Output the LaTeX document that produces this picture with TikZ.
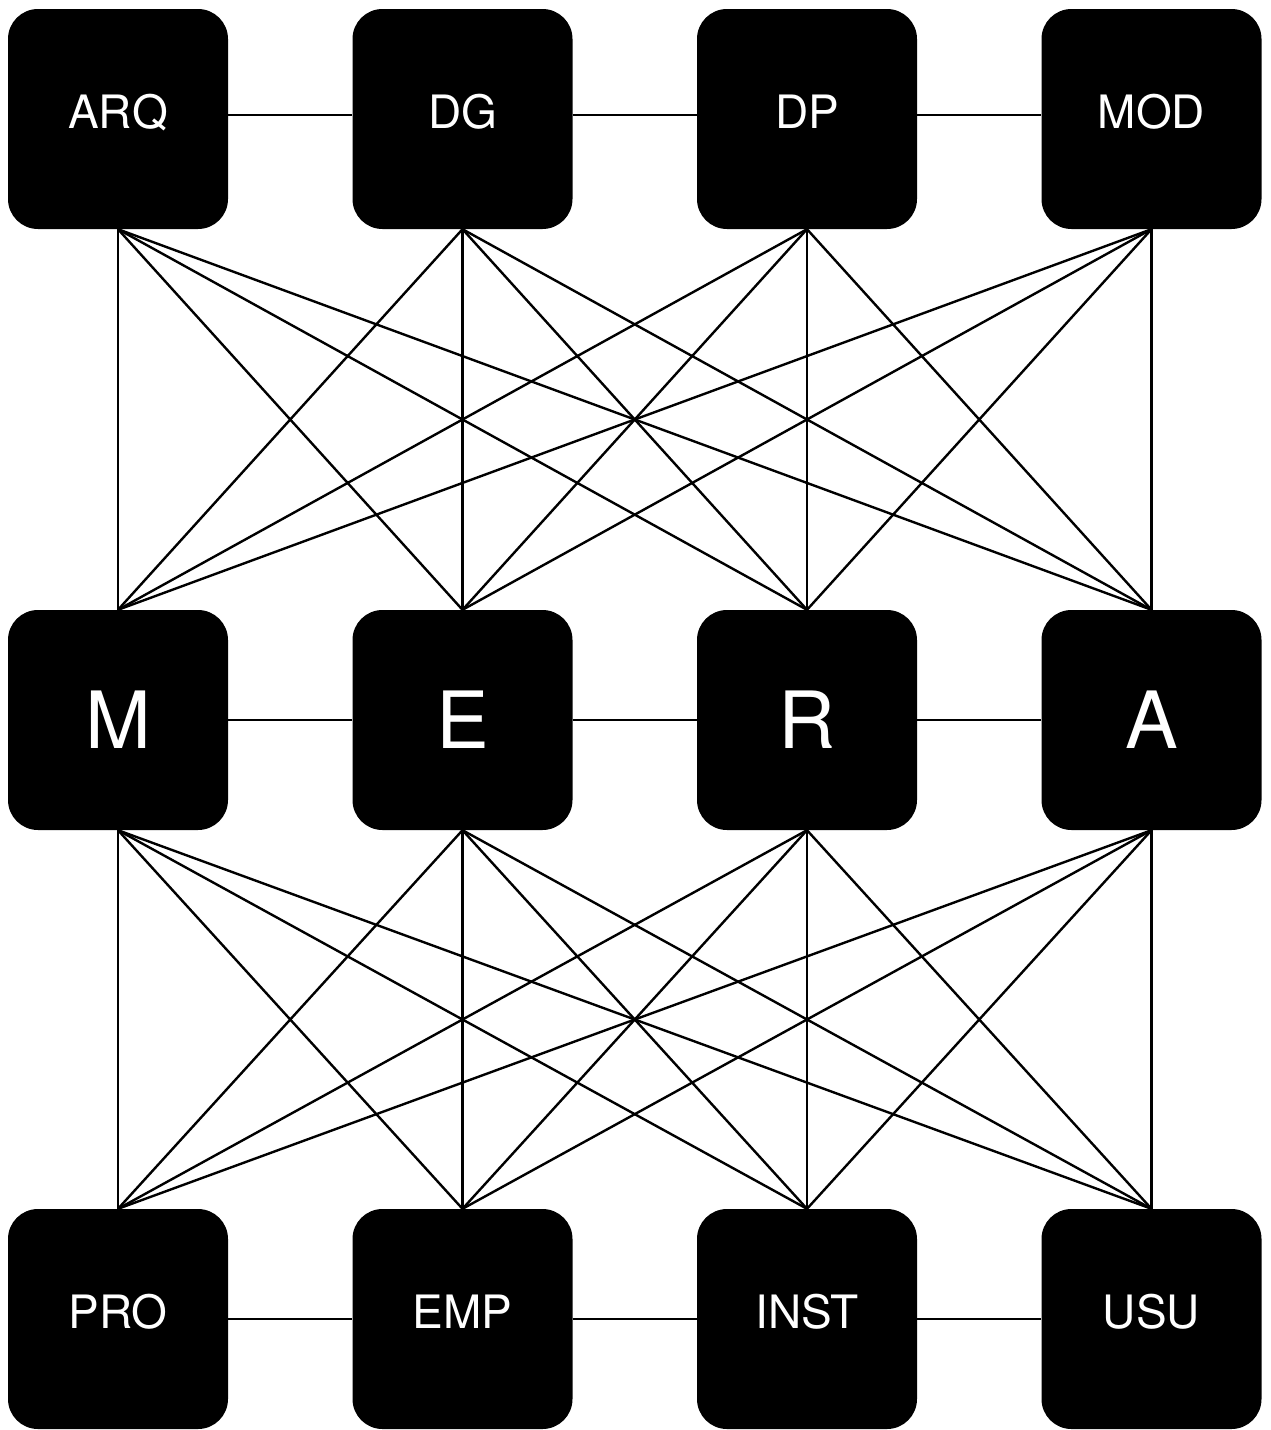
\documentclass[tikz,border=0pt]{standalone}
\usepackage{fontspec}
\setmainfont{TeX Gyre Heros}
\begin{document}
\begin{tikzpicture}[x=1pt,y=-1pt,
  cell/.style={draw=none, fill=black, rounded corners=30pt, minimum width=220pt, minimum height=220pt, inner sep=0pt, text=white},
  small/.style={font=\fontsize{46}{50}\selectfont},
  big/.style={font=\fontsize{79}{84}\selectfont},
  link/.style={line width=2.4pt, black}]
\useasboundingbox (0,0) rectangle (1271,1430);
% top row
\node[cell,small] (arq) at (118,119) {\raisebox{-9.5pt}[0pt][0pt]{ARQ}};
\node[cell,small] (dg)  at (462.5,119) {\raisebox{-9.5pt}[0pt][0pt]{DG}};
\node[cell,small] (dp)  at (807,119) {\raisebox{-9.5pt}[0pt][0pt]{DP}};
\node[cell,small] (mod) at (1151.5,119) {\raisebox{-9.5pt}[0pt][0pt]{MOD}};
% middle row
\node[cell,big] (m) at (118,720) {\raisebox{-28.5pt}[0pt][0pt]{M}};
\node[cell,big] (e) at (462.5,720) {\raisebox{-28.5pt}[0pt][0pt]{E}};
\node[cell,big] (r) at (807,720) {\raisebox{-28.5pt}[0pt][0pt]{R}};
\node[cell,big] (a) at (1151.5,720) {\raisebox{-28.5pt}[0pt][0pt]{A}};
% bottom row
\node[cell,small] (pro)  at (118,1319) {\raisebox{-9.5pt}[0pt][0pt]{PRO}};
\node[cell,small] (emp)  at (462.5,1319) {\raisebox{-9.5pt}[0pt][0pt]{EMP}};
\node[cell,small] (inst) at (807,1319) {\raisebox{-9.5pt}[0pt][0pt]{INST}};
\node[cell,small] (usu)  at (1151.5,1319) {\raisebox{-9.5pt}[0pt][0pt]{USU}};
% horizontal links
\draw[link] ([yshift=4pt]arq.east) -- ([yshift=4pt]dg.west);
\draw[link] ([yshift=4pt]dg.east) -- ([yshift=4pt]dp.west);
\draw[link] ([yshift=4pt]dp.east) -- ([yshift=4pt]mod.west);
\draw[link] (m.east) -- (e.west);
\draw[link] (e.east) -- (r.west);
\draw[link] (r.east) -- (a.west);
\draw[link] (pro.east) -- (emp.west);
\draw[link] (emp.east) -- (inst.west);
\draw[link] (inst.east) -- (usu.west);
% cross links top to middle
\foreach \t in {arq,dg,dp,mod}{
  \foreach \b in {m,e,r,a}{
    \draw[link] (\t.south) -- (\b.north);
  }
}
% cross links middle to bottom
\foreach \t in {m,e,r,a}{
  \foreach \b in {pro,emp,inst,usu}{
    \draw[link] (\t.south) -- (\b.north);
  }
}
\end{tikzpicture}
\end{document}
